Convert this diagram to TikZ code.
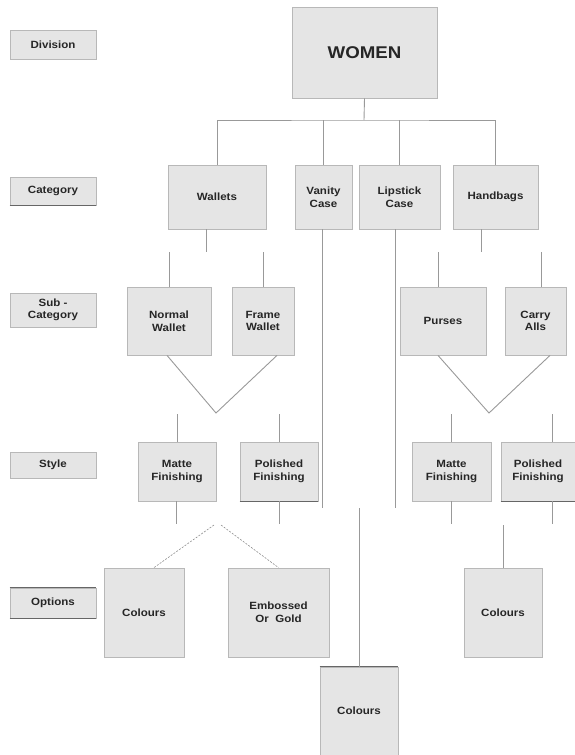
\documentclass[tikz,border=0pt]{standalone}
\usepackage{fontspec}
\setmainfont{Liberation Sans}[FakeStretch=1.1]
\usetikzlibrary{positioning}
\tikzset{
	tier/.style={draw=black!28, line width=.8pt, fill=black!10, text=black!85,
		align=center, inner sep=1pt, font=\fontsize{10.5}{12.6}\selectfont\bfseries},
	levelbox/.style={tier, minimum width=86},
	unitbox/.style={tier, minimum width=#1},
	link/.style={draw=black!40, line width=.9pt},
	optlink/.style={draw=black!45, line width=.6pt, dash pattern=on 2pt off 1.4pt},
	rim/.style={draw=black!60, line width=1.3pt}
}

\begin{document}
\begin{tikzpicture}[x=1pt, y=-1pt]
\useasboundingbox (0,0) rectangle (574,755);
% level captions
\node[levelbox, minimum height=29] (division) at (53,44.5) {Division};
\node[levelbox, minimum height=28] (category) at (53,191) {Category};
\node[levelbox, minimum height=34] (subcat) at (53,310) {Sub -\\Category};
\node[levelbox, minimum height=26] (stylecap) at (53,465) {Style};
\node[levelbox, minimum height=30] (options) at (53,603) {Options};
% division
\node[unitbox=145, minimum height=91, font=\fontsize{17}{19}\selectfont\bfseries] (women) at (364.5,52.5) {WOMEN};
% category
\node[unitbox=98, minimum height=64] (wallets) at (217,197) {Wallets};
\node[unitbox=57, minimum height=64] (vanity) at (323.5,197) {Vanity\\Case};
\node[unitbox=81, minimum height=64] (lipstick) at (399.5,197) {Lipstick\\Case};
\node[unitbox=85, minimum height=64] (handbags) at (495.5,197) {Handbags};
% sub-category
\node[unitbox=84, minimum height=68] (normal) at (169,321) {Normal\\Wallet};
\node[unitbox=62, minimum height=68] (frame) at (263,321) {Frame\\Wallet};
\node[unitbox=86, minimum height=68] (purses) at (443,321) {Purses};
\node[unitbox=61, minimum height=68] (carry) at (535.5,321) {Carry\\Alls};
% style
\node[unitbox=78, minimum height=59] (matteA) at (177,471.5) {Matte\\Finishing};
\node[unitbox=78, minimum height=59] (polishA) at (279,471.5) {Polished\\Finishing};
\node[unitbox=79, minimum height=59] (matteB) at (451.5,471.5) {Matte\\Finishing};
\node[unitbox=74, minimum height=59] (polishB) at (538,471.5) {Polished\\Finishing};
% options
\node[unitbox=80, minimum height=89] (coloursA) at (144,612.5) {Colours};
\node[unitbox=101, minimum height=89] (embossed) at (278.5,612.5) {Embossed\\Or\ \ Gold};
\node[unitbox=78, minimum height=89] (coloursB) at (503,612.5) {Colours};
\node[unitbox=78, minimum height=88] (coloursC) at (359,711) {Colours};

% darker edges
\draw[rim] (category.south west) -- (category.south east);
\draw[rim] (options.north west) -- (options.north east);
\draw[rim] (options.south west) -- (options.south east);
\draw[rim] (polishA.south west) -- (polishA.south east);
\draw[rim] (polishB.south west) -- (polishB.south east);
\draw[rim] (coloursC.north west) -- (coloursC.north east);

% free ends
\coordinate (hub) at (364,120);
\coordinate (wstub) at (206,252);
\coordinate (hstub) at (481,252);
\coordinate (vend) at (322,508);
\coordinate (lend) at (395,508);
\coordinate (vleft) at (216,413);
\coordinate (vright) at (489,413);
\coordinate (mtop) at (359,508);
\coordinate (ostub) at (503,525);
\coordinate (dotL) at (214,525);
\coordinate (dotR) at (221,525);

% division to category
\draw[link] (women.south) -- (hub);
\draw[link] (wallets.north) |- (hub) -| (handbags.north);
\draw[link] (vanity.north) -- (vanity.north |- hub);
\draw[link] (lipstick.north) -- (lipstick.north |- hub);
% category to sub-category
\draw[link] (wallets.south -| wstub) -- (wstub);
\draw[link] (normal.north) -- (normal.north |- wstub);
\draw[link] (frame.north) -- (frame.north |- wstub);
\draw[link] (handbags.south -| hstub) -- (hstub);
\draw[link] (purses.north -| 438,0) -- (438,252);
\draw[link] (carry.north -| 541,0) -- (541,252);
\draw[link] (vanity.south -| vend) -- (vend);
\draw[link] (lipstick.south -| lend) -- (lend);
% sub-category to style
\draw[link] (normal.south -| 167,0) -- (vleft) -- (frame.south -| 277,0);
\draw[link] (purses.south -| 438,0) -- (vright) -- (carry.south -| 550,0);
\draw[link] (matteA.north) -- ++(0,-28);
\draw[link] (polishA.north) -- ++(0,-28);
\draw[link] (matteB.north) -- ++(0,-28);
\draw[link] (polishB.north -| 552,0) -- ++(0,-28);
% style to options
\draw[link] (matteA.south -| 176,0) -- ++(0,23);
\draw[link] (polishA.south) -- ++(0,23);
\draw[link] (matteB.south) -- ++(0,23);
\draw[link] (polishB.south -| 552,0) -- ++(0,23);
\draw[optlink] (dotL) -- (coloursA.north -| 154,0);
\draw[optlink] (dotR) -- (embossed.north);
\draw[link] (ostub) -- (coloursB.north);
\draw[link] (mtop) -- (coloursC.north);
\end{tikzpicture}
\end{document}
